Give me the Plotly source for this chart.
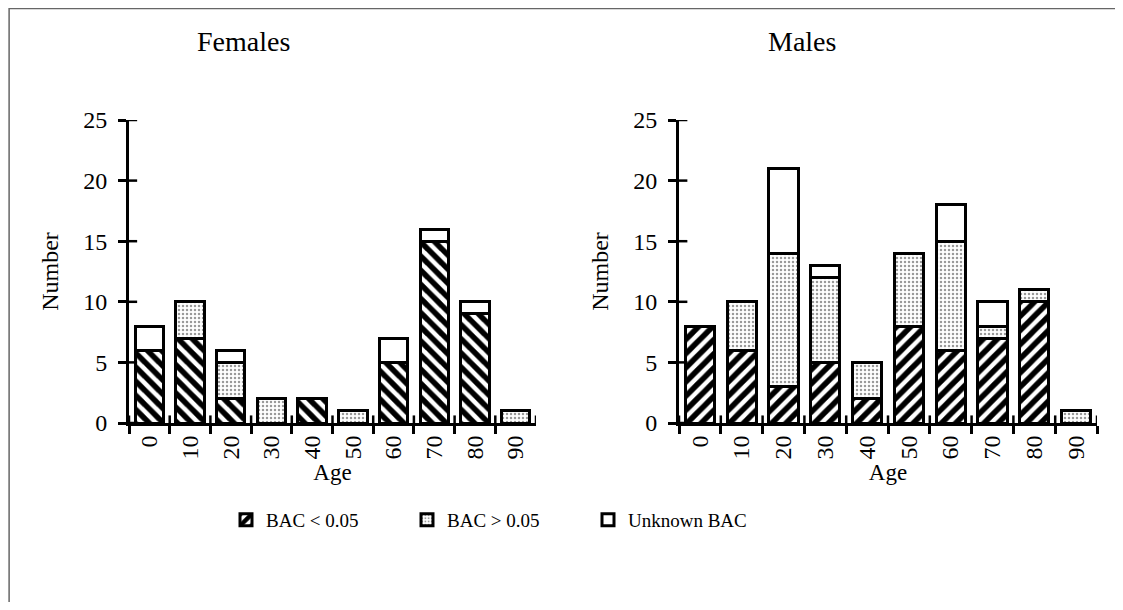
import plotly.graph_objects as go

# Data
ages = ["0", "10", "20", "30", "40", "50", "60", "70", "80", "90"]
series_names = ["BAC < 0.05", "BAC > 0.05", "Unknown BAC"]
female_low = [6, 7, 2, 0, 2, 0, 5, 15, 9, 0]
female_high = [0, 3, 3, 2, 0, 1, 0, 0, 0, 1]
female_unknown = [2, 0, 1, 0, 0, 0, 2, 1, 1, 0]
male_low = [8, 6, 3, 5, 2, 8, 6, 7, 10, 0]
male_high = [0, 4, 11, 7, 3, 6, 9, 1, 1, 1]
male_unknown = [0, 0, 7, 1, 0, 0, 3, 2, 0, 0]
y_ticks = [0, 5, 10, 15, 20, 25]

FONT = "Liberation Serif"
# page body has an 8px margin, so the figure is sized to fit inside it
W, H = 1107, 594


def fx(s):
    return (s - 8) / W


def fy(s):
    return 1 - (s - 8) / H


fig = go.Figure()


def patt(kind, hatch):
    # pattern for each series
    if kind == 0:
        return dict(shape=hatch, fgcolor="black", fgopacity=1, bgcolor="white",
                    size=10, solidity=0.55)
    if kind == 1:
        return dict(shape=".", fgcolor="#333", bgcolor="white", size=4, solidity=0.3)
    return dict(shape="", bgcolor="white")


panels = [
    ("x", "y", "\\", [female_low, female_high, female_unknown], False),
    ("x2", "y2", "/", [male_low, male_high, male_unknown], True),
]
for xa, ya, hatch, vals, show in panels:
    for k, v in enumerate(vals):
        fig.add_trace(go.Bar(
            x=ages, y=v, xaxis=xa, yaxis=ya, name=series_names[k],
            width=0.7, showlegend=show, legendgroup=series_names[k],
            marker=dict(color="white", pattern=patt(k, hatch),
                        line=dict(color="black", width=3)),
        ))

xdom = [[fx(129), fx(536)], [fx(679), fx(1097)]]
ydom = [fy(423), fy(120)]

ax_common = dict(showline=True, linecolor="black", linewidth=3, showgrid=False,
                 zeroline=False, ticks="outside", tickwidth=2.5, ticklen=8,
                 tickcolor="black", automargin=False)
tickfont = dict(family=FONT, size=24, color="black")

fig.update_layout(
    width=W, height=H, barmode="stack", bargap=0.3,
    paper_bgcolor="white", plot_bgcolor="white",
    margin=dict(l=0, r=0, t=0, b=0),
    font=dict(family=FONT, color="black"),
    legend=dict(orientation="h", x=fx(226), y=fy(520), yanchor="middle", xanchor="left",
                font=dict(family=FONT, size=19), entrywidth=136, traceorder="normal"),
)
for i, (xa, ya) in enumerate([("xaxis", "yaxis"), ("xaxis2", "yaxis2")]):
    anchor_y = "y" if i == 0 else "y2"
    anchor_x = "x" if i == 0 else "x2"
    fig.layout[xa] = dict(ax_common, domain=xdom[i], anchor=anchor_y, type="category",
                          tickson="boundaries", tickangle=-90, range=[-0.5, 9.5],
                          tickfont=tickfont,
                          title=dict(text="Age", font=dict(family=FONT, size=23), standoff=0))
    fig.layout[ya] = dict(ax_common, domain=ydom, anchor=anchor_x, range=[0, 25],
                          tickvals=y_ticks, tickfont=tickfont, ticklabelstandoff=6,
                          title=dict(text="Number", font=dict(family=FONT, size=24), standoff=18))
    # inner half of the crossing tick marks
    for t in y_ticks:
        fig.add_shape(type="line", xref=f"{anchor_x} domain", yref=anchor_y,
                      x0=0, x1=0.02, y0=t, y1=t, line=dict(color="black", width=2.5))
    for b in range(len(ages) + 1):
        fig.add_shape(type="line", xref=anchor_x, yref=f"{anchor_y} domain",
                      x0=b - 0.5, x1=b - 0.5, y0=0, y1=0.025,
                      line=dict(color="black", width=2.5))

fig.add_annotation(text="Females", x=fx(243), y=fy(42), xref="paper", yref="paper",
                   xanchor="center", yanchor="middle",
                   showarrow=False, font=dict(family=FONT, size=28))
fig.add_annotation(text="Males", x=fx(802), y=fy(42), xref="paper", yref="paper",
                   xanchor="center", yanchor="middle",
                   showarrow=False, font=dict(family=FONT, size=28))

# outer frame
fig.add_shape(type="rect", xref="paper", yref="paper", x0=0.001, x1=fx(1118), y0=-0.01, y1=0.999,
              line=dict(color="#666", width=1.5))

fig.write_html("out.html")
